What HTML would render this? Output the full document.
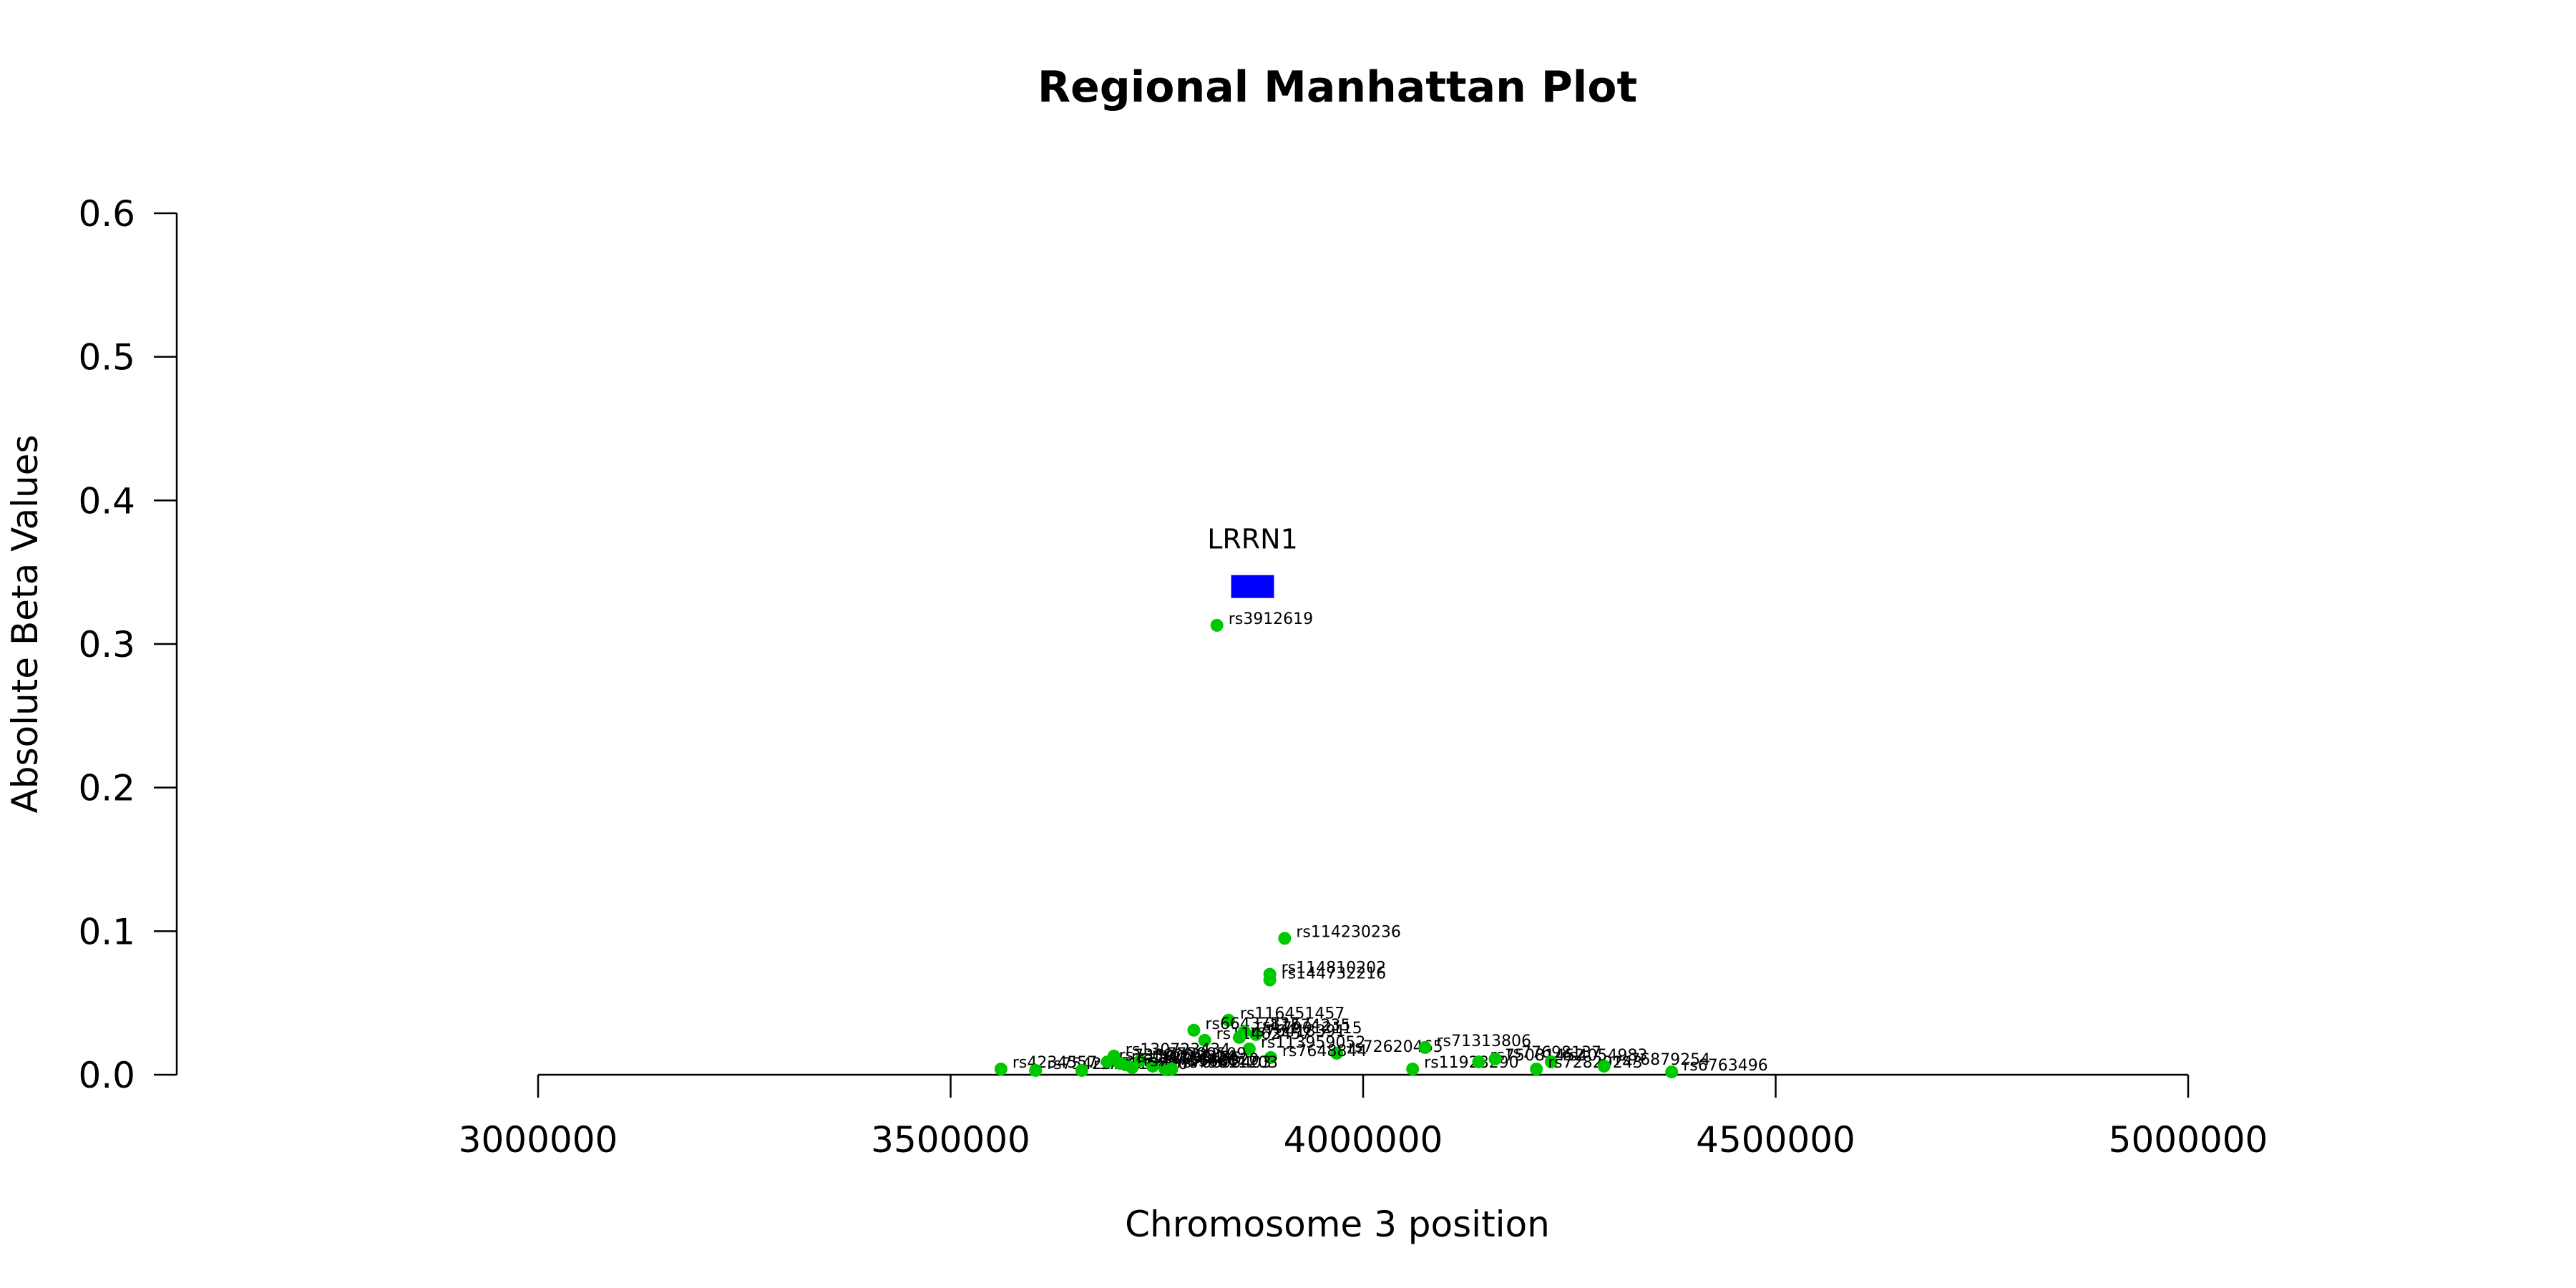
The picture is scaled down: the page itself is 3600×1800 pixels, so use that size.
<!DOCTYPE html>
<html><head><meta charset="utf-8"><style>
html,body{margin:0;padding:0;background:#fff;}
svg{display:block;font-family:"DejaVu Sans","Liberation Sans",sans-serif;}
</style></head><body>
<svg id="chart" width="3600" height="1800" viewBox="0 0 3600 1800" xmlns="http://www.w3.org/2000/svg">
<rect width="3600" height="1800" fill="#fff"/>
<text x="1869" y="142" font-size="60" font-weight="bold" text-anchor="middle">Regional Manhattan Plot</text>
<text transform="translate(52,872) rotate(-90)" font-size="50" text-anchor="middle">Absolute Beta Values</text>
<text x="1869" y="1728" font-size="50" text-anchor="middle">Chromosome 3 position</text>
<g id="axes"></g>
<g id="marks"></g>
</svg>
<script>
const yTicks=[0,0.1,0.2,0.3,0.4,0.5,0.6];
const xTicks=[3000000,3500000,4000000,4500000,5000000];
const snpNames=["rs3912619","rs114230236","rs114810202","rs144732216","rs116451457","rs66437827","rs11574235","rs79012115","rs11462457","rs76418391","rs113959052","rs72620465","rs7648844","rs71313806","rs11928290","rs75081452","rs77698137","rs4054983","rs72829243","rs76879254","rs6763496","rs4234557","rs75428760","rs76015820","rs130723434","rs77309509","rs76695403","rs75842920","rs112233445","rs74455660","rs73390011","rs79811203","rs116022314"];
const snpPos=[3822800,3904900,3886900,3886900,3836800,3794800,3856000,3870000,3808000,3850000,3862000,3968000,3888000,4075000,4060000,4140000,4160000,4228000,4210000,4292000,4374000,3561000,3603000,3659000,3698000,3730000,3760000,3745000,3712000,3720000,3690000,3768000,3705000];
const snpVal=[0.313,0.095,0.070,0.066,0.038,0.031,0.030,0.028,0.024,0.026,0.018,0.015,0.012,0.019,0.004,0.009,0.011,0.009,0.004,0.006,0.002,0.004,0.003,0.003,0.013,0.010,0.004,0.006,0.007,0.005,0.009,0.004,0.008];
const geneName=["LRRN1"];
const geneStart=[3840000];
const geneEnd=[3892000];
const geneVal=[0.34];

const NS="http://www.w3.org/2000/svg";
const X0=752,X1=3058,Y0=1502,Y1=298;
function xs(v){return X0+(v-3000000)/2000000*(X1-X0);}
function ys(v){return Y0-(v/0.6)*(Y0-Y1);}
function mk(tag,attrs,parent){const e=document.createElementNS(NS,tag);for(const k in attrs)e.setAttribute(k,attrs[k]);parent.appendChild(e);return e;}
const axes=document.getElementById('axes'),marks=document.getElementById('marks');
let l=mk('line',{x1:247,x2:247,y1:ys(0.6),y2:ys(0),stroke:'#000','stroke-width':2.5},axes);


yTicks.forEach(t=>{
 const tk=mk('line',{x1:215,x2:247,y1:ys(t),y2:ys(t),stroke:'#000','stroke-width':2.5},axes);
 
 
 const tx=mk('text',{x:189,y:ys(t)+18,'font-size':50,'text-anchor':'end'},axes);
 tx.textContent=t.toFixed(1);
 
 
});
l=mk('line',{x1:xs(3000000),x2:xs(5000000),y1:Y0,y2:Y0,stroke:'#000','stroke-width':2.5},axes);


xTicks.forEach(t=>{
 const tk=mk('line',{x1:xs(t),x2:xs(t),y1:Y0,y2:Y0+32,stroke:'#000','stroke-width':2.5},axes);
 
 
 const tx=mk('text',{x:xs(t),y:1610,'font-size':50,'text-anchor':'middle'},axes);
 tx.textContent=String(t);
 
 
});
geneName.forEach((g,i)=>{
 const r=mk('rect',{x:xs(geneStart[i]),y:ys(geneVal[i])-16,width:xs(geneEnd[i])-xs(geneStart[i]),height:32,fill:'#0000ff'},marks);
 
 
 const t=mk('text',{x:(xs(geneStart[i])+xs(geneEnd[i]))/2,y:ys(geneVal[i])-53,'font-size':38,'text-anchor':'middle'},marks);
 t.textContent=g;
 
 
});
snpNames.forEach((n,i)=>{
 const c=mk('circle',{cx:xs(snpPos[i]),cy:ys(snpVal[i]),r:9,fill:'#00c800'},marks);
 
 
 const t=mk('text',{x:xs(snpPos[i])+16,y:ys(snpVal[i])-2,'font-size':22},marks);
 t.textContent=n;
 
 
});
</script>
</body></html>
